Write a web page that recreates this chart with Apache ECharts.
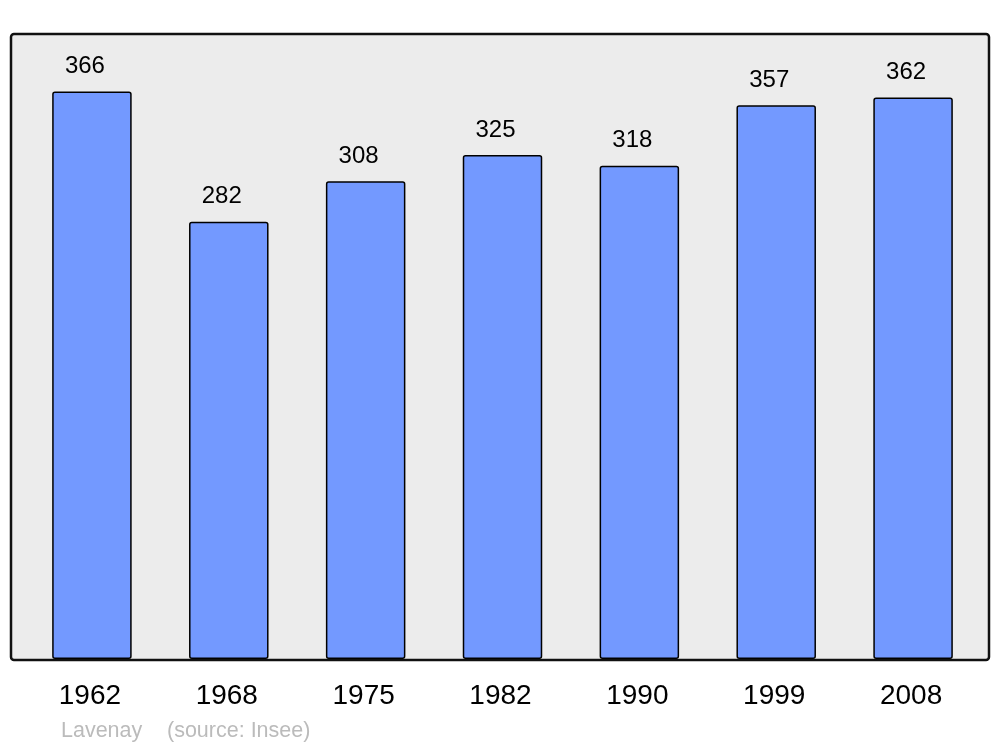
<!DOCTYPE html>
<html>
<head>
<meta charset="utf-8">
<script src="https://cdn.jsdelivr.net/npm/echarts@6/dist/echarts.min.js"></script>
<style>html,body{margin:0;padding:0;background:#fff}#c{width:1000px;height:747px}</style>
</head>
<body>
<div id="c"></div>
<script>
const years = ['1962','1968','1975','1982','1990','1999','2008'];
const population = [366, 282, 308, 325, 318, 357, 362];
const placeName = 'Lavenay';
const sourceText = '(source: Insee)';

const chart = echarts.init(document.getElementById('c'), null, {renderer: 'canvas'});
chart.setOption({
  animation: false,
  backgroundColor: '#ffffff',
  graphic: [
    {type: 'rect', z: -10, shape: {x: 11, y: 34, width: 978, height: 626, r: 3},
     style: {fill: '#ececec', stroke: '#111111', lineWidth: 2.5}},
    {type: 'text', left: 61, top: 720,
     style: {text: placeName, fill: '#bbbbbb', font: '21.5px "Liberation Sans", Arial, sans-serif'}},
    {type: 'text', left: 167, top: 720,
     style: {text: sourceText, fill: '#bbbbbb', font: '21.5px "Liberation Sans", Arial, sans-serif'}}
  ],
  grid: {left: 23.5, right: 18.5, top: 34, bottom: 88, containLabel: false},
  xAxis: {
    type: 'category', data: years,
    axisLine: {show: false}, axisTick: {show: false},
    axisLabel: {color: '#000', fontSize: 28, fontFamily: 'Liberation Sans', margin: 23,
      padding: [0, 4, 0, 0]}
  },
  yAxis: {type: 'value', min: 0, max: 403, show: false, splitLine: {show: false}},
  series: [{
    type: 'bar', data: population, barWidth: 79.5,
    itemStyle: {color: '#7399ff', borderColor: '#000', borderWidth: 1.5, borderRadius: 2},
    label: {show: true, position: 'top', distance: 13, offset: [-7, 0], color: '#000',
      fontSize: 24, fontFamily: 'Liberation Sans'}
  }]
});
</script>
</body>
</html>
